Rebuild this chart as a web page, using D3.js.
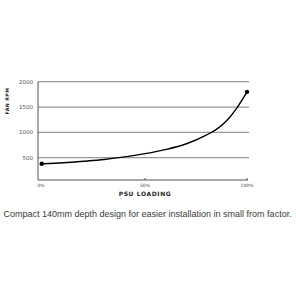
<!DOCTYPE html>
<html>
<head>
<meta charset="utf-8">
<script src="https://cdn.jsdelivr.net/npm/d3@7"></script>
<style>
  body { margin: 0; background: #fff; }
  svg { display: block; }
</style>
</head>
<body>
<script>
// data
const loading = [0, 10, 20, 30, 40, 50, 60, 70, 80, 85, 90, 95, 100];
const fanRpm = [380, 400, 430, 465, 515, 580, 660, 770, 945, 1060, 1230, 1480, 1800];
const yTicks = [500, 1000, 1500, 2000];
const xTicks = [0, 50, 100];
const xTickLabels = ['0%', '50%', '100%'];

const width = 296, height = 296;
const margin = { left: 38, right: 48, top: 81, bottom: 113 };

const svg = d3.select('body').append('svg')
  .attr('width', width)
  .attr('height', height);

const xScale = d3.scaleLinear()
  .domain([0, 100])
  .range([43, 247]);

const yScale = d3.scaleLinear()
  .domain([0, 2000])
  .range([183, 81.7]);

const axisY = 180;

// grid lines
svg.append('g')
  .selectAll('line')
  .data(yTicks)
  .enter()
  .append('line')
  .attr('x1', margin.left)
  .attr('x2', 249)
  .attr('y1', d => yScale(d))
  .attr('y2', d => yScale(d))
  .attr('stroke', '#9a9a9a')
  .attr('stroke-width', 1.3);

// y tick labels
svg.append('g')
  .selectAll('text')
  .data(yTicks)
  .enter()
  .append('text')
  .attr('x', 33)
  .attr('y', d => yScale(d) + 2)
  .attr('text-anchor', 'end')
  .attr('font-family', 'DejaVu Sans')
  .attr('font-size', 5.5)
  .attr('fill', '#555')
  .text(d => d);

// axes lines
svg.append('line')
  .attr('x1', margin.left).attr('x2', margin.left)
  .attr('y1', yScale(2000)).attr('y2', axisY)
  .attr('stroke', '#555').attr('stroke-width', 1);

svg.append('line')
  .attr('x1', margin.left).attr('x2', 248)
  .attr('y1', axisY).attr('y2', axisY)
  .attr('stroke', '#555').attr('stroke-width', 1);

// x ticks
svg.append('g')
  .selectAll('line')
  .data(xTicks.slice(1))
  .enter()
  .append('line')
  .attr('x1', d => xScale(d)).attr('x2', d => xScale(d))
  .attr('y1', axisY - 2).attr('y2', axisY)
  .attr('stroke', '#555');

svg.append('g')
  .selectAll('text')
  .data(xTicks)
  .enter()
  .append('text')
  .attr('x', d => d === 0 ? 41 : xScale(d))
  .attr('y', 187)
  .attr('text-anchor', 'middle')
  .attr('font-family', 'DejaVu Sans')
  .attr('font-size', 4.5)
  .attr('fill', '#444')
  .text((d, i) => xTickLabels[i]);

// axis titles
svg.append('text')
  .attr('x', xScale(50))
  .attr('y', 195.5)
  .attr('text-anchor', 'middle')
  .attr('font-family', 'DejaVu Sans')
  .attr('font-weight', 'bold')
  .attr('font-size', 6)
  .attr('letter-spacing', 0.6)
  .attr('fill', '#222')
  .text('PSU LOADING');

svg.append('text')
  .attr('transform', `translate(8.5, 101) rotate(-90)`)
  .attr('text-anchor', 'middle')
  .attr('font-family', 'DejaVu Sans')
  .attr('font-weight', 'bold')
  .attr('font-size', 4.8)
  .attr('letter-spacing', 0.4)
  .attr('fill', '#222')
  .text('FAN RPM');

// curve
const line = d3.line()
  .x((d, i) => xScale(loading[i]))
  .y(d => yScale(d))
  .curve(d3.curveMonotoneX);

svg.append('path')
  .datum(fanRpm)
  .attr('d', line)
  .attr('fill', 'none')
  .attr('stroke', '#000')
  .attr('stroke-width', 1.4);

svg.selectAll('circle')
  .data([0, fanRpm.length - 1])
  .enter()
  .append('circle')
  .attr('cx', i => i === 0 ? 41.7 : xScale(loading[i]))
  .attr('cy', i => yScale(fanRpm[i]))
  .attr('r', 2.2)
  .attr('fill', '#000');

// caption
svg.append('text')
  .attr('x', 3.5)
  .attr('y', 217)
  .attr('font-family', 'Liberation Sans, Arial, sans-serif')
  .attr('font-size', 9)
  .attr('fill', '#3a3a3a')
  .text('Compact 140mm depth design for easier installation in small from factor.');
</script>
</body>
</html>
